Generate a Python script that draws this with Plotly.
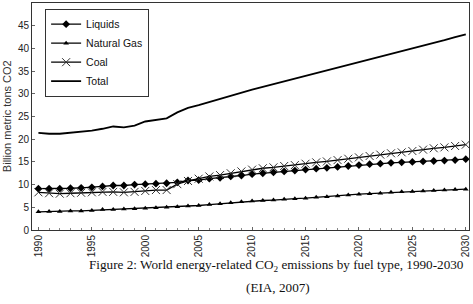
import plotly.graph_objects as go

years = list(range(1990, 2031))

liquids = [9.1, 9.1, 9.1, 9.2, 9.3, 9.4, 9.6, 9.8, 9.8, 10.0,
           10.1, 10.2, 10.3, 10.5, 10.9, 11.0, 11.3, 11.5, 11.8, 12.0,
           12.3, 12.5, 12.7, 12.9, 13.1, 13.3, 13.5, 13.7, 13.9, 14.1,
           14.3, 14.5, 14.6, 14.8, 14.9, 15.0, 15.1, 15.2, 15.3, 15.4, 15.6]

natural_gas = [4.0, 4.1, 4.1, 4.2, 4.2, 4.3, 4.5, 4.5, 4.6, 4.7,
               4.8, 4.9, 5.0, 5.1, 5.3, 5.4, 5.6, 5.8, 6.0, 6.2,
               6.4, 6.5, 6.6, 6.8, 6.9, 7.0, 7.2, 7.3, 7.5, 7.7,
               7.9, 8.0, 8.1, 8.3, 8.4, 8.5, 8.6, 8.7, 8.8, 8.9, 9.0]

coal = [8.3, 8.1, 8.0, 8.1, 8.2, 8.3, 8.4, 8.4, 8.3, 8.4,
        8.6, 8.8, 8.8, 10.1, 10.8, 11.3, 11.8, 12.1, 12.5, 12.9,
        13.3, 13.6, 13.8, 14.1, 14.3, 14.6, 14.9, 15.1, 15.4, 15.7,
        16.0, 16.3, 16.6, 16.9, 17.1, 17.4, 17.7, 18.0, 18.2, 18.5, 18.8]

total = [21.4, 21.2, 21.2, 21.4, 21.6, 21.9, 22.3, 22.8, 22.6, 23.0,
         23.9, 24.2, 24.6, 25.9, 26.9, 27.5, 28.2, 28.8, 29.5, 30.2,
         30.9, 31.5, 32.1, 32.7, 33.4, 34.0, 34.6, 35.2, 35.8, 36.4,
         37.0, 37.6, 38.2, 38.8, 39.3, 39.9, 40.5, 41.1, 41.8, 42.5, 43.1]

x_ticks = list(range(1990, 2031, 5))
y_ticks = list(range(0, 51, 5))

fig = go.Figure()
fig.add_trace(go.Scatter(x=years, y=liquids, name="Liquids", mode="lines+markers",
                         line=dict(color="black", width=1.3),
                         marker=dict(symbol="diamond", size=6, color="black")))
fig.add_trace(go.Scatter(x=years, y=natural_gas, name="Natural Gas", mode="lines+markers",
                         line=dict(color="black", width=1.3),
                         marker=dict(symbol="triangle-up", size=5, color="black")))
fig.add_trace(go.Scatter(x=years, y=coal, name="Coal", mode="lines+markers",
                         line=dict(color="black", width=1.3),
                         marker=dict(symbol="x-thin", size=8, color="black",
                                     line=dict(width=1, color="#333"))))
fig.add_trace(go.Scatter(x=years, y=total, name="Total", mode="lines",
                         line=dict(color="black", width=1.8)))

fig.update_layout(
    width=473, height=304,
    margin=dict(l=32, r=2, t=3, b=74),
    paper_bgcolor="white", plot_bgcolor="white",
    font=dict(family="Liberation Sans, Arial", size=10, color="#222"),
    showlegend=True,
    legend=dict(x=0.03, y=0.975, xanchor="left", yanchor="top",
                bordercolor="#333", borderwidth=1, bgcolor="white",
                font=dict(size=10.5, color="#111"), tracegroupgap=0,
                itemwidth=30),
    xaxis=dict(range=[1989.4, 2030.3], tickvals=x_ticks,
               ticktext=[str(v) for v in x_ticks], tickangle=-90,
               ticklabeloverflow="allow",
               showgrid=False, zeroline=False, showline=True, linecolor="#333",
               linewidth=1, mirror=True, ticks="inside", ticklen=3, tickcolor="#666",
               minor=dict(dtick=1, ticks="inside", ticklen=2, tickcolor="#888"),
               tickfont=dict(size=10, color="#222")),
    yaxis=dict(range=[0, 50], tickvals=y_ticks, showgrid=False, zeroline=False,
               showline=True, linecolor="#333", linewidth=1, mirror=True,
               ticks="inside", ticklen=3, tickcolor="#666",
               tickfont=dict(size=10, color="#222")),
    annotations=[
        dict(text="Billion metric tons CO2", xref="paper", yref="paper",
             x=-0.058, y=0.5, xanchor="center", yanchor="middle", textangle=-90,
             showarrow=False, font=dict(size=11, color="#333")),
        dict(text="Figure 2: World energy-related CO<sub>2</sub> emissions by fuel type, 1990-2030",
             xref="paper", yref="paper", x=(278 - 32) / 439, y=-(265 - 230) / 227,
             xanchor="center", yanchor="middle", showarrow=False,
             font=dict(family="Liberation Serif, Times New Roman", size=13.2, color="#111")),
        dict(text="(EIA, 2007)",
             xref="paper", yref="paper", x=(279 - 32) / 439, y=-(287 - 230) / 227,
             xanchor="center", yanchor="middle", showarrow=False,
             font=dict(family="Liberation Serif, Times New Roman", size=13.2, color="#111")),
    ],
)

fig.write_html("out.html")
